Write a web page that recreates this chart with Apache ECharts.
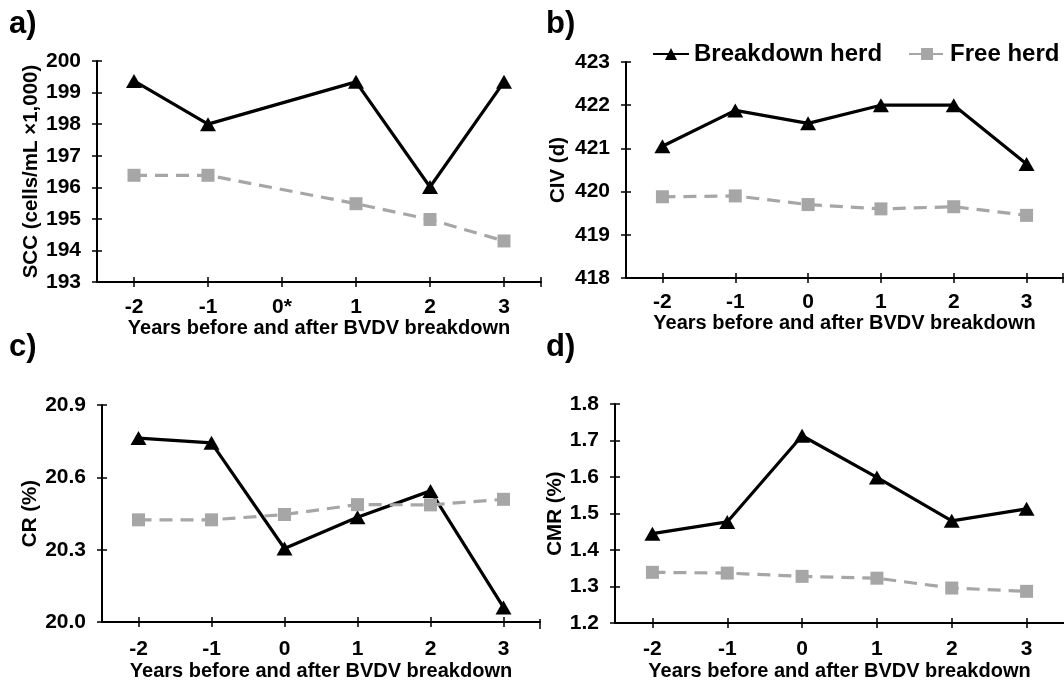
<!DOCTYPE html>
<html><head><meta charset="utf-8">
<script src="https://cdn.jsdelivr.net/npm/echarts@6/dist/echarts.min.js"></script>
<style>html,body{margin:0;padding:0;background:#fff}#c{width:1064px;height:682px}</style>
</head><body><div id="c"></div>
<script>
// ---- data ----
const yearsA = ['-2', '-1', '0*', '1', '2', '3'];
const years = ['-2', '-1', '0', '1', '2', '3'];
const seriesNames = ['Breakdown herd', 'Free herd'];

const sccBreakdown = [199.37, 198.0, null, 199.34, 196.01, 199.34];
const sccFree = [196.38, 196.38, null, 195.48, 194.98, 194.3];
const civBreakdown = [421.05, 421.88, 421.58, 422.0, 422.0, 420.64];
const civFree = [419.88, 419.9, 419.7, 419.6, 419.65, 419.45];
const crBreakdown = [20.763, 20.743, 20.305, 20.435, 20.544, 20.061];
const crFree = [20.424, 20.424, 20.446, 20.487, 20.486, 20.509];
const cmrBreakdown = [1.445, 1.477, 1.713, 1.599, 1.480, 1.513];
const cmrFree = [1.339, 1.337, 1.328, 1.323, 1.296, 1.287];

const sccTicks = [193, 194, 195, 196, 197, 198, 199, 200];
const civTicks = [418, 419, 420, 421, 422, 423];
const crTicks = [20.0, 20.3, 20.6, 20.9];
const cmrTicks = [1.2, 1.3, 1.4, 1.5, 1.6, 1.7, 1.8];

const yNames = ['SCC (cells/mL \u00d71,000)', 'CIV (d)', 'CR (%)', 'CMR (%)'];
const xName = 'Years before and after BVDV breakdown';
const panelLabels = ['a)', 'b)', 'c)', 'd)'];

// ---- layout / style ----
const FONT = "'Liberation Sans', Arial, sans-serif";
const GRAY = '#a6a6a6';
const panels = [
  {grid: {left: 97, top: 61, width: 444, height: 221}, cats: yearsA, ticks: sccTicks, dec: 0, b: sccBreakdown, f: sccFree, nameGap: 53, lm: 15, xg: 36, lab: [9, 9]},
  {grid: {left: 626, top: 62, width: 437, height: 216}, cats: years, ticks: civTicks, dec: 0, b: civBreakdown, f: civFree, nameGap: 57, lm: 14, xg: 35, lab: [546, 9]},
  {grid: {left: 102, top: 405, width: 438, height: 219}, cats: years, ticks: crTicks, dec: 1, b: crBreakdown, f: crFree, nameGap: 57, lm: 17, xg: 38, lab: [9, 332]},
  {grid: {left: 615, top: 404, width: 450, height: 222}, cats: years, ticks: cmrTicks, dec: 1, b: cmrBreakdown, f: cmrFree, nameGap: 47, lm: 16, xg: 37, lab: [546, 332]}
];

const textBase = {fontFamily: FONT, fontWeight: 'bold', color: '#000'};
const option = {
  animation: false,
  backgroundColor: '#fff',
  title: [], grid: [], xAxis: [], yAxis: [], series: [], graphic: [],
  legend: {
    data: seriesNames, left: 652, top: 42, padding: 0, itemGap: 26,
    itemWidth: 36, itemHeight: 15,
    textStyle: Object.assign({}, textBase, {fontSize: 24, padding: [0, 0, 0, 0]})
  }
};

panels.forEach((p, i) => {
  const min = p.ticks[0], max = p.ticks[p.ticks.length - 1];
  option.title.push({text: panelLabels[i], left: p.lab[0], top: p.lab[1], padding: 0,
    textStyle: Object.assign({}, textBase, {fontSize: 31})});
  option.grid.push(p.grid);
  const axisLine = {show: true, onZero: false, lineStyle: {color: '#000', width: 2}};
  option.xAxis.push({
    type: 'category', gridIndex: i, data: p.cats, position: 'bottom', boundaryGap: true,
    axisLine: axisLine,
    axisTick: {show: true, alignWithLabel: true, length: 5, lineStyle: {color: '#000', width: 1.5}},
    axisLabel: Object.assign({}, textBase, {fontSize: 21, margin: p.lm}),
    name: xName, nameLocation: 'middle', nameGap: p.xg,
    nameTextStyle: Object.assign({}, textBase, {fontSize: 20}),
    splitLine: {show: false}
  });
  option.xAxis.push({
    type: 'category', gridIndex: i, data: p.cats, position: 'bottom', boundaryGap: true,
    axisLine: {show: false, onZero: false},
    axisTick: {show: true, inside: true, alignWithLabel: true, length: 5, lineStyle: {color: '#000', width: 1.5}},
    axisLabel: {show: false}, splitLine: {show: false}
  });
  option.yAxis.push({
    type: 'value', gridIndex: i, min: min, max: max, position: 'left',
    axisLine: axisLine,
    axisTick: {show: true, length: 5, customValues: p.ticks, lineStyle: {color: '#000', width: 1.5}},
    axisLabel: Object.assign({}, textBase, {fontSize: 21, margin: 16, customValues: p.ticks,
      formatter: v => Number(v).toFixed(p.dec)}),
    name: yNames[i], nameLocation: 'middle', nameGap: p.nameGap,
    nameTextStyle: Object.assign({}, textBase, {fontSize: 20.5}),
    splitLine: {show: false}
  });
  option.yAxis.push({
    type: 'value', gridIndex: i, min: min, max: max, position: 'left',
    axisLine: {show: false, onZero: false},
    axisTick: {show: true, inside: true, length: 5, customValues: p.ticks, lineStyle: {color: '#000', width: 1.5}},
    axisLabel: {show: false}, splitLine: {show: false}
  });
  option.series.push({
    name: seriesNames[0], type: 'line', xAxisIndex: 2 * i, yAxisIndex: 2 * i,
    data: p.b, connectNulls: true, symbol: 'triangle', symbolSize: [16, 14],
    lineStyle: {color: '#000', width: 3.2}, itemStyle: {color: '#000'}, z: 2
  });
  option.series.push({
    name: seriesNames[1], type: 'line', xAxisIndex: 2 * i, yAxisIndex: 2 * i,
    data: p.f, connectNulls: true, symbol: 'rect', symbolSize: 13,
    lineStyle: {color: GRAY, width: 3.2, type: [13, 8]}, itemStyle: {color: GRAY}, z: 3
  });
  // end tick at right end of x axis
  const ex = p.grid.left + p.grid.width, ey = p.grid.top + p.grid.height;
  option.graphic.push({type: 'line', shape: {x1: ex, y1: ey - 5, x2: ex, y2: ey + 5},
    style: {stroke: '#000', lineWidth: 1.5}});
});

const chart = echarts.init(document.getElementById('c'), null, {renderer: 'canvas'});
chart.setOption(option);
</script></body></html>
